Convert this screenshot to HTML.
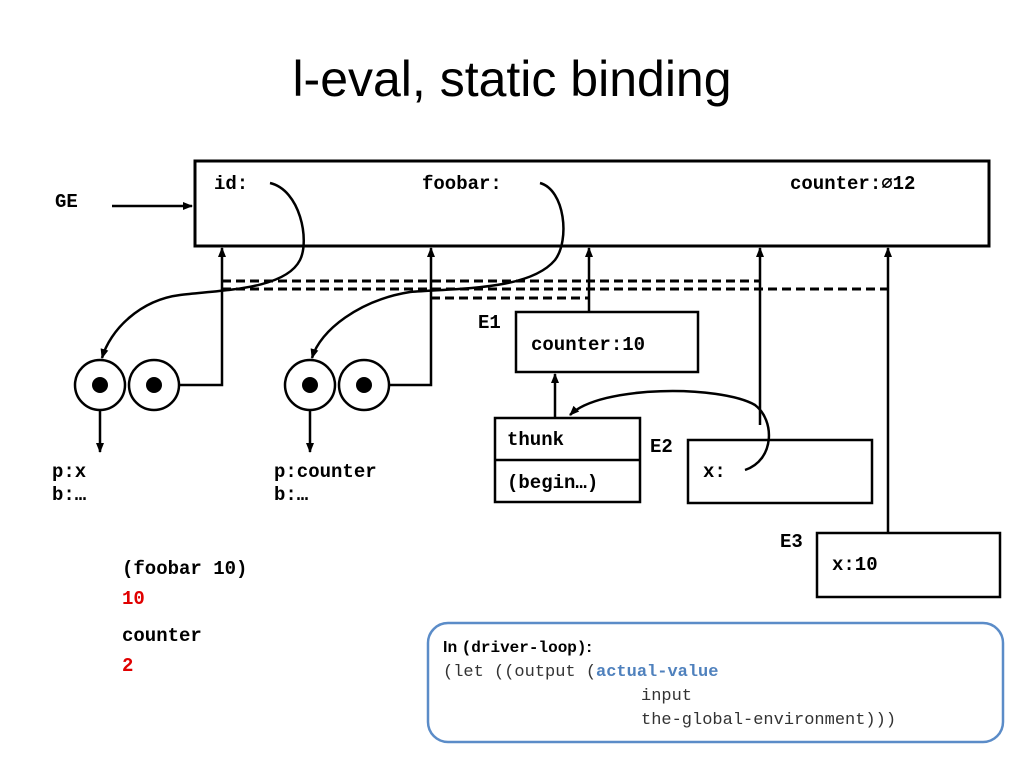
<!DOCTYPE html>
<html><head><meta charset="utf-8"><style>
html,body{margin:0;padding:0;background:#fff;}
svg{display:block;}
.m{font-family:"Liberation Mono",monospace;font-weight:bold;font-size:19px;fill:#000;}
</style></head><body>
<svg width="1024" height="768" viewBox="0 0 1024 768" xmlns="http://www.w3.org/2000/svg">
<defs>
<marker id="a" markerWidth="10" markerHeight="10" refX="9" refY="5" orient="auto" markerUnits="userSpaceOnUse">
<path d="M0,1 L10,5 L0,9 Z" fill="#000"/></marker>
</defs>
<text x="512" y="96" text-anchor="middle" font-family="Liberation Sans,sans-serif" font-size="50" fill="#000">l-eval, static binding</text>

<text x="55" y="207" class="m">GE</text>
<line x1="112" y1="206" x2="192" y2="206" stroke="#000" stroke-width="2.5" marker-end="url(#a)"/>
<rect x="195" y="161" width="794" height="85" fill="none" stroke="#000" stroke-width="3"/>
<text x="214" y="189" class="m">id:</text>
<text x="422" y="189" class="m">foobar:</text>
<text x="790" y="189" class="m">counter:∅12</text>

<g stroke="#000" stroke-width="3" stroke-dasharray="9,5" fill="none">
<line x1="222" y1="281" x2="760" y2="281"/>
<line x1="222" y1="289" x2="888" y2="289"/>
<line x1="431" y1="298" x2="589" y2="298"/>
</g>

<g stroke="#000" stroke-width="2.5" fill="none">
<path d="M154,385 H222 V248" marker-end="url(#a)"/>
<path d="M364,385 H431 V248" marker-end="url(#a)"/>
<line x1="589" y1="312" x2="589" y2="248" marker-end="url(#a)"/>
<line x1="760" y1="425" x2="760" y2="248" marker-end="url(#a)"/>
<line x1="888" y1="533" x2="888" y2="248" marker-end="url(#a)"/>
<path d="M270,183 C300,190 310,240 300,260 C285,290 220,290 180,295 C140,300 110,330 102,358" marker-end="url(#a)"/>
<path d="M540,183 C565,190 570,240 555,260 C530,290 460,288 410,292 C360,300 320,330 312,358" marker-end="url(#a)"/>
<line x1="100" y1="385" x2="100" y2="452" marker-end="url(#a)"/>
<line x1="310" y1="385" x2="310" y2="452" marker-end="url(#a)"/>
<line x1="555" y1="418" x2="555" y2="374" marker-end="url(#a)"/>
<path d="M745,470 C775,460 775,420 755,405 C720,385 600,385 570,415" marker-end="url(#a)"/>
</g>

<g stroke="#000" stroke-width="2.5" fill="#fff">
<circle cx="100" cy="385" r="25"/><circle cx="154" cy="385" r="25"/>
<circle cx="310" cy="385" r="25"/><circle cx="364" cy="385" r="25"/>
</g>
<g fill="#000"><circle cx="100" cy="385" r="8"/><circle cx="154" cy="385" r="8"/><circle cx="310" cy="385" r="8"/><circle cx="364" cy="385" r="8"/></g>

<text x="52" y="477" class="m">p:x</text><text x="52" y="500" class="m">b:…</text>
<text x="274" y="477" class="m">p:counter</text><text x="274" y="500" class="m">b:…</text>

<text x="478" y="328" class="m">E1</text>
<rect x="516" y="312" width="182" height="60" fill="none" stroke="#000" stroke-width="2.5"/>
<text x="531" y="350" class="m">counter:10</text>

<rect x="495" y="418" width="145" height="84" fill="none" stroke="#000" stroke-width="2.5"/>
<line x1="495" y1="460" x2="640" y2="460" stroke="#000" stroke-width="2.5"/>
<text x="507" y="445" class="m">thunk</text>
<text x="507" y="488" class="m">(begin…)</text>

<text x="650" y="452" class="m">E2</text>
<rect x="688" y="440" width="184" height="63" fill="none" stroke="#000" stroke-width="2.5"/>
<text x="703" y="477" class="m">x:</text>

<text x="780" y="547" class="m">E3</text>
<rect x="817" y="533" width="183" height="64" fill="none" stroke="#000" stroke-width="2.5"/>
<text x="832" y="570" class="m">x:10</text>

<text x="122" y="574" class="m">(foobar 10)</text>
<text x="122" y="604" class="m" style="fill:#e00000">10</text>
<text x="122" y="641" class="m">counter</text>
<text x="122" y="671" class="m" style="fill:#e00000">2</text>

<rect x="428" y="623" width="575" height="119" rx="20" fill="#fff" stroke="#5b8cc8" stroke-width="2.5"/>
<text x="443" y="652" font-family="Liberation Sans,sans-serif" font-weight="bold" font-size="16">In <tspan font-family="Liberation Mono,monospace">(driver-loop)</tspan>:</text>
<g font-family="Liberation Mono,monospace" font-size="17" fill="#333">
<text x="443" y="676">(let ((output (<tspan fill="#4f81bd" font-weight="bold">actual-value</tspan></text>
<text x="641" y="700">input</text>
<text x="641" y="724">the-global-environment)))</text>
</g>
</svg>
</body></html>
